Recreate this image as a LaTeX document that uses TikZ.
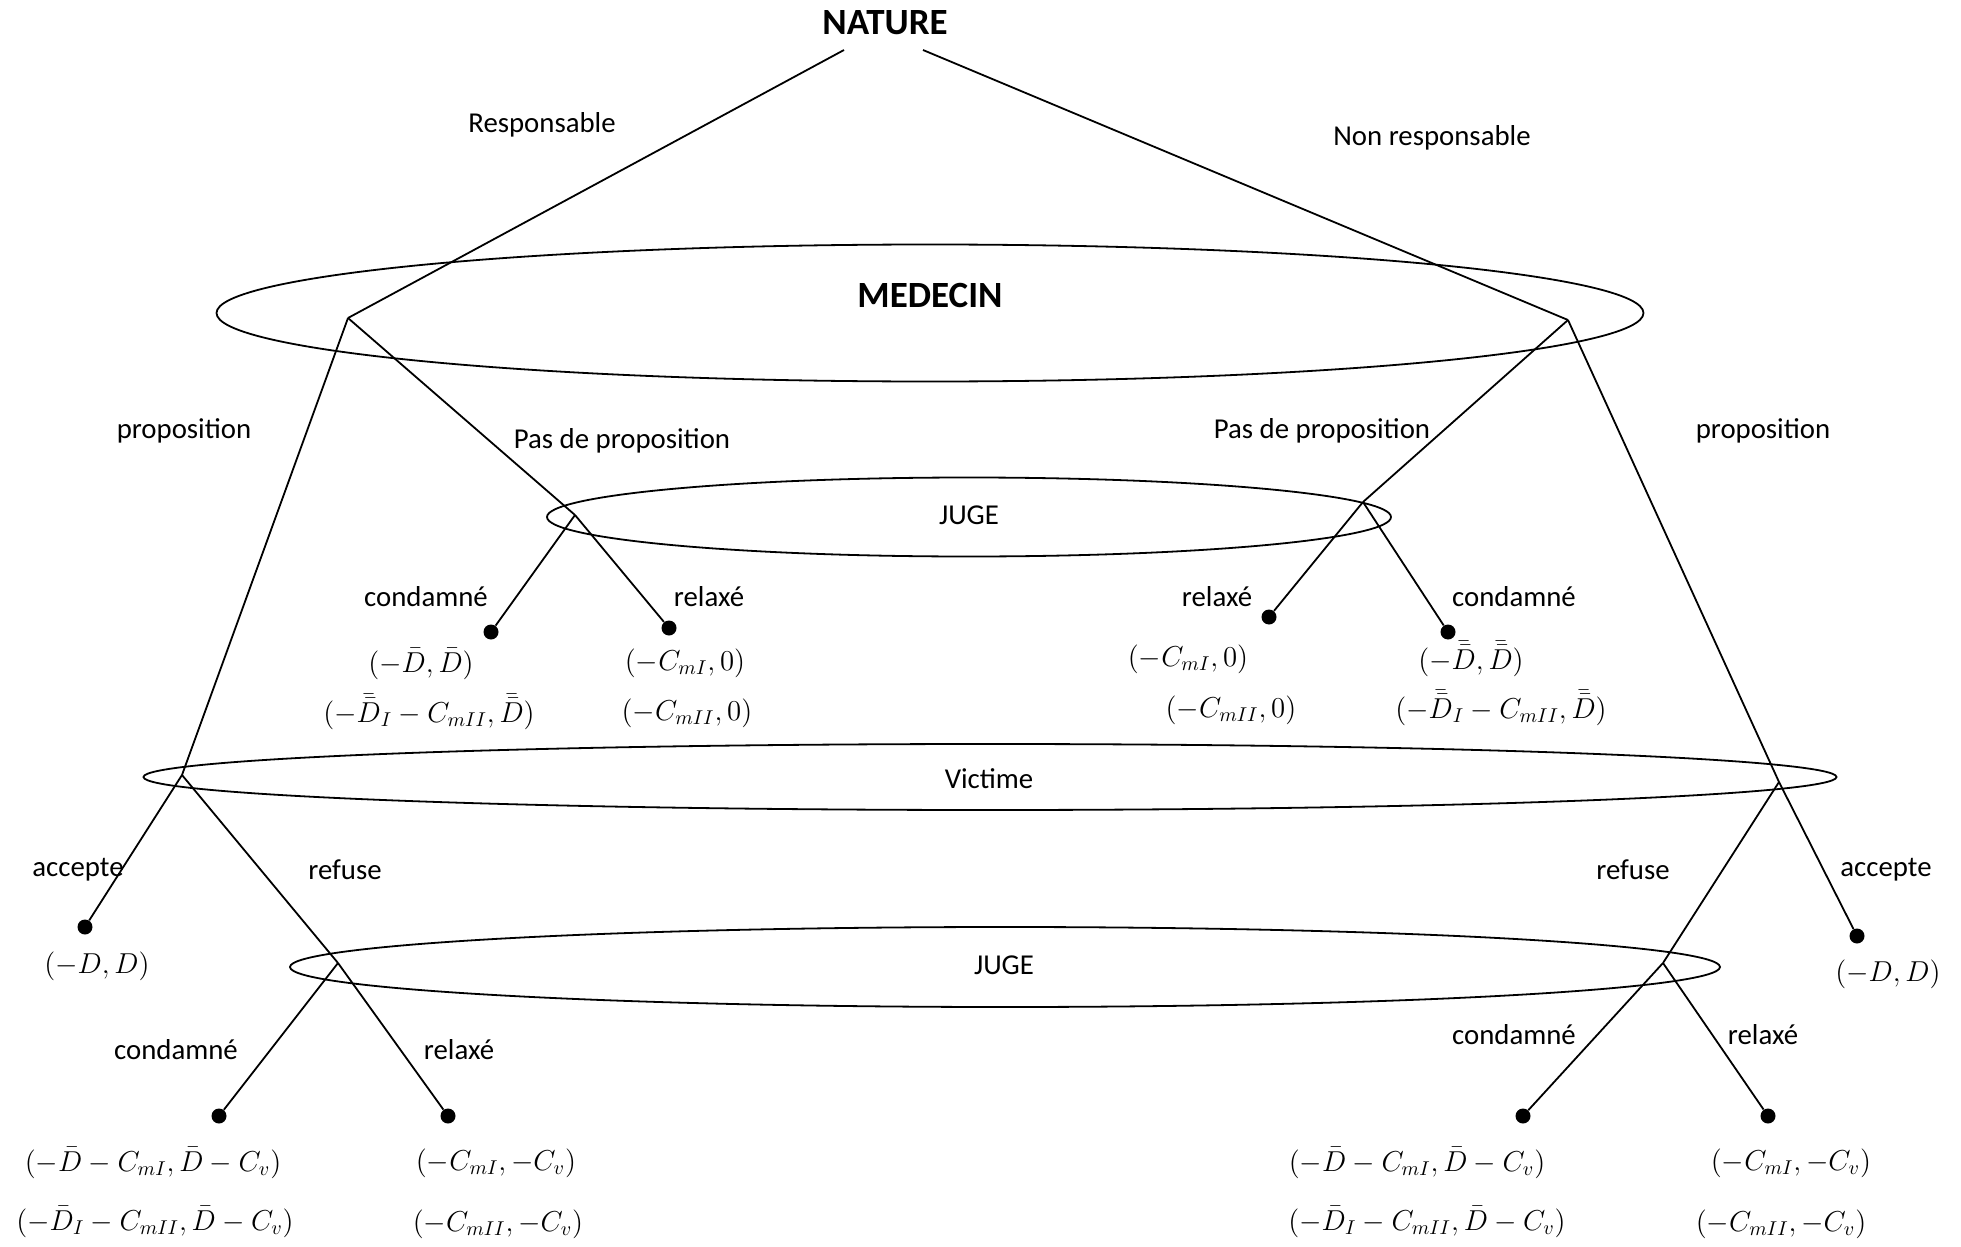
\documentclass[tikz,border=0pt]{standalone}
\usepackage{fontspec}
\setmainfont{Carlito}
\usetikzlibrary{shapes.geometric}
\newcommand\DDbar[1]{\bar{\bar{#1}}}
\begin{document}
\begin{tikzpicture}[x=0.5pt,y=-0.5pt,
  every node/.style={font=\fontsize{14.4}{17}\selectfont, inner sep=0pt},
  big/.style={font=\fontsize{18.5}{22}\selectfont\bfseries},
  oval/.style={draw, ellipse, inner sep=0pt, line width=0.9pt},
  leaf/.style={circle, fill=black, inner sep=0pt, minimum size=7.5pt},
  edge/.style={line width=0.9pt}]
\useasboundingbox (0,0) rectangle (1961,1247);

% information sets
\node[oval, minimum width=713.5pt, minimum height=68.5pt] (medecin) at (930,313) {};
\node[oval, minimum width=422pt, minimum height=39.5pt] (jugeT) at (969,517) {};
\node[oval, minimum width=846.5pt, minimum height=33pt] (victime) at (990,777) {};
\node[oval, minimum width=715pt, minimum height=40pt] (jugeB) at (1005,967) {};

% titles
\node[big] (natureT) at (885,23) {NATURE};
\node[big] (medecinT) at (930,295) {MEDECIN};
\node (jugeTT) at (969,515) {JUGE};
\node (victimeT) at (989,779) {Victime};
\node (jugeBT) at (1004,965) {JUGE};

% decision points
\coordinate (natL) at (844,50);
\coordinate (natR) at (923,50);
\coordinate (medL) at (348,318);
\coordinate (medR) at (1568,320);
\coordinate (jugL) at (575,515);
\coordinate (jugR) at (1363,502);
\coordinate (vicL) at (182,775);
\coordinate (vicR) at (1779,782);
\coordinate (jbL) at (338,963);
\coordinate (jbR) at (1663,963);

% leaves
\node[leaf] (l1) at (491,632) {};
\node[leaf] (l2) at (669,628) {};
\node[leaf] (l3) at (1269,617) {};
\node[leaf] (l4) at (1448,632) {};
\node[leaf] (l5) at (85,927) {};
\node[leaf] (l6) at (1857,936) {};
\node[leaf] (l7) at (219,1116) {};
\node[leaf] (l8) at (448,1116) {};
\node[leaf] (l9) at (1523,1116) {};
\node[leaf] (l10) at (1768,1116) {};

% edges
\draw[edge] (natL) -- (medL);
\draw[edge] (natR) -- (medR);
\draw[edge] (medL) -- (jugL);
\draw[edge] (jugL) -- (l1);
\draw[edge] (jugL) -- (l2);
\draw[edge] (medL) -- (vicL);
\draw[edge] (vicL) -- (l5);
\draw[edge] (vicL) -- (jbL);
\draw[edge] (jbL) -- (l7);
\draw[edge] (jbL) -- (l8);
\draw[edge] (medR) -- (jugR);
\draw[edge] (jugR) -- (l3);
\draw[edge] (jugR) -- (l4);
\draw[edge] (medR) -- (vicR);
\draw[edge] (vicR) -- (l6);
\draw[edge] (vicR) -- (jbR);
\draw[edge] (jbR) -- (l9);
\draw[edge] (jbR) -- (l10);

% edge labels
\node (tResp) at (542,125) {Responsable};
\node (tNonResp) at (1432,138) {Non responsable};
\node (tPropL) at (184,431) {proposition};
\node (tPasL) at (622,441) {Pas de proposition};
\node (tPasR) at (1322,431) {Pas de proposition};
\node (tPropR) at (1763,431) {proposition};
\node (tCondTL) at (426,597) {condamné};
\node (tRelTL) at (709,597) {relaxé};
\node (tRelTR) at (1217,597) {relaxé};
\node (tCondTR) at (1514,597) {condamné};
\node (tAccL) at (78,870) {accepte};
\node (tRefL) at (345,870) {refuse};
\node (tRefR) at (1633,870) {refuse};
\node (tAccR) at (1886,870) {accepte};
\node (tCondBL) at (176,1050) {condamné};
\node (tRelBL) at (459,1050) {relaxé};
\node (tCondBR) at (1514,1035) {condamné};
\node (tRelBR) at (1763,1035) {relaxé};

% payoffs
\node (p1a) at (421,664) {$(-\bar{D},\bar{D})$};
\node (p1b) at (429,712) {$(-\DDbar{D}_I-C_{mII},\DDbar{D})$};
\node (p2a) at (685,663) {$(-C_{mI},0)$};
\node (p2b) at (687,713) {$(-C_{mII},0)$};
\node (p3a) at (1188,659) {$(-C_{mI},0)$};
\node (p3b) at (1231,710) {$(-C_{mII},0)$};
\node (p4a) at (1471,659) {$(-\DDbar{D},\DDbar{D})$};
\node (p4b) at (1501,708) {$(-\DDbar{D}_I-C_{mII},\DDbar{D})$};
\node (p5) at (97,966) {$(-D,D)$};
\node (p6) at (1888,974) {$(-D,D)$};
\node (p7a) at (153,1163) {$(-\bar{D}-C_{mI},\bar{D}-C_v)$};
\node (p7b) at (155,1222) {$(-\bar{D}_I-C_{mII},\bar{D}-C_v)$};
\node (p8a) at (496,1163) {$(-C_{mI},-C_v)$};
\node (p8b) at (498,1224) {$(-C_{mII},-C_v)$};
\node (p9a) at (1417,1163) {$(-\bar{D}-C_{mI},\bar{D}-C_v)$};
\node (p9b) at (1427,1222) {$(-\bar{D}_I-C_{mII},\bar{D}-C_v)$};
\node (p10a) at (1791,1163) {$(-C_{mI},-C_v)$};
\node (p10b) at (1781,1224) {$(-C_{mII},-C_v)$};
\end{tikzpicture}
\end{document}
